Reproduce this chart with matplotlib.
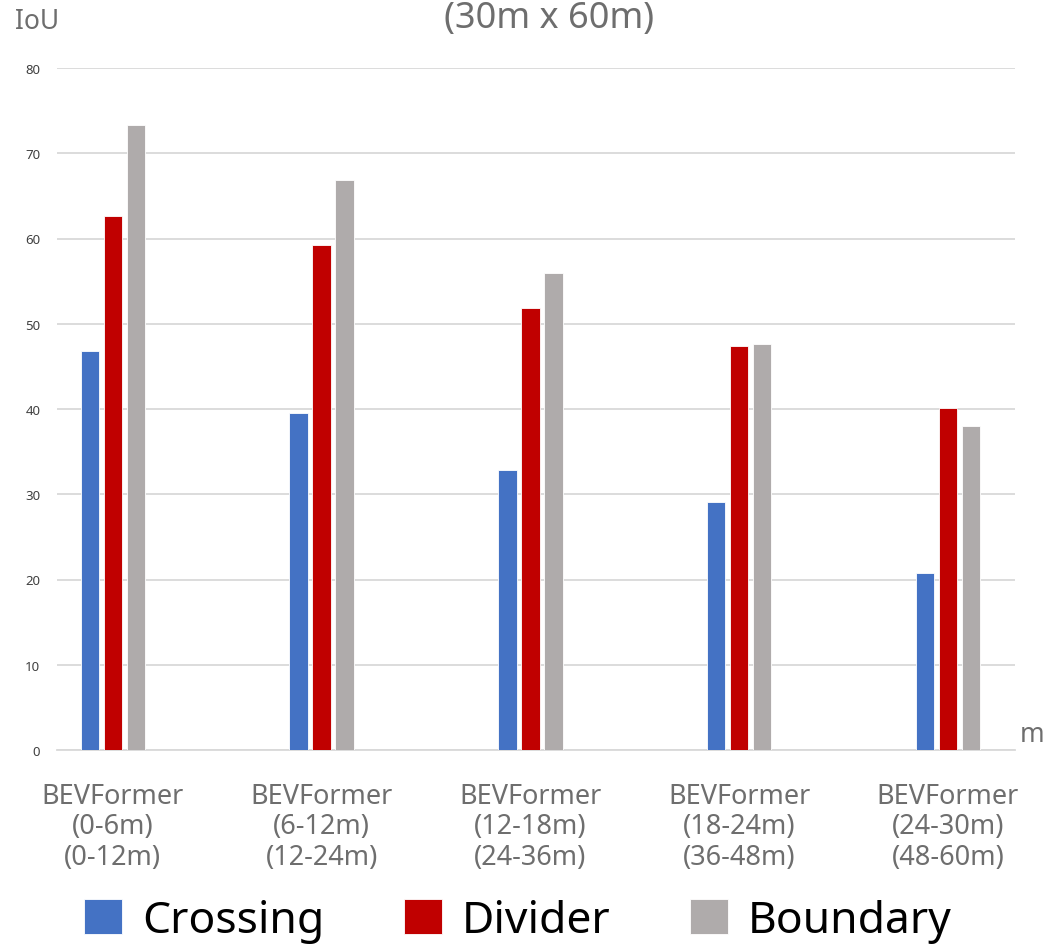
import matplotlib
matplotlib.use("Agg")
import matplotlib.pyplot as plt
import numpy as np

# IoU per distance band
categories = [
    "BEVFormer\n(0-6m)\n(0-12m)",
    "BEVFormer\n(6-12m)\n(12-24m)",
    "BEVFormer\n(12-18m)\n(24-36m)",
    "BEVFormer\n(18-24m)\n(36-48m)",
    "BEVFormer\n(24-30m)\n(48-60m)",
]
crossing = [46.8, 39.5, 32.8, 29.1, 20.8]
divider = [62.6, 59.2, 51.8, 47.4, 40.1]
boundary = [73.3, 66.9, 55.9, 47.6, 38.0]
series_names = ["Crossing", "Divider", "Boundary"]
yticks = [0, 10, 20, 30, 40, 50, 60, 70, 80]

colors = ["#4472C4", "#C00000", "#AFABAB"]
text_gray = "#6E6E6E"

plt.rcParams["font.family"] = ["Noto Sans", "DejaVu Sans"]

W, H = 1043, 945
fig = plt.figure(figsize=(W / 100, H / 100), dpi=100)
ax = fig.add_axes([57 / W, (H - 751) / H, (1015 - 57) / W, (751 - 69) / H])

x = np.arange(len(categories))
width = 0.088
offset = 0.110
handles = []
for k, (vals, name, col) in enumerate(zip([crossing, divider, boundary], series_names, colors)):
    b = ax.bar(x + (k - 1) * offset, vals, width, color=col, edgecolor="white",
               linewidth=0.6, label=name, zorder=3)
    handles.append(b)

ax.set_xlim(-0.267, 4.321)
ax.set_ylim(0, 80)
ax.set_yticks(yticks)
ax.set_yticklabels([str(v) for v in yticks], fontsize=9.5, color="#404040")
ax.set_xticks(x)
ax.set_xticklabels(categories, fontsize=19.5, color=text_gray, linespacing=1.12)
ax.tick_params(axis="y", length=0, pad=12)
ax.tick_params(axis="x", length=0, pad=23)
ax.grid(axis="y", color="#D9D9D9", linewidth=1.3, zorder=0)
for s in ["top", "right", "left"]:
    ax.spines[s].set_visible(False)
ax.spines["bottom"].set_color("#D9D9D9")
ax.spines["bottom"].set_linewidth(1.3)

fig.text(15 / W, 1 - 22 / H, "IoU", fontsize=19, color=text_gray, va="center", ha="left")
fig.text(1020 / W, 1 - 735 / H, "m", fontsize=19, color=text_gray, va="center", ha="left")
fig.text(549 / W, 1 - 19 / H, "(30m x 60m)", fontsize=26, color=text_gray, va="center", ha="center")

fig.legend(handles=handles, labels=series_names, loc="center",
           bbox_to_anchor=(518 / W, 1 - 922 / H), ncol=3, frameon=False,
           fontsize=32, handlelength=0.85, handleheight=0.85,
           handletextpad=0.45, columnspacing=1.8, borderpad=0)

fig.savefig("out.png", dpi=100)
